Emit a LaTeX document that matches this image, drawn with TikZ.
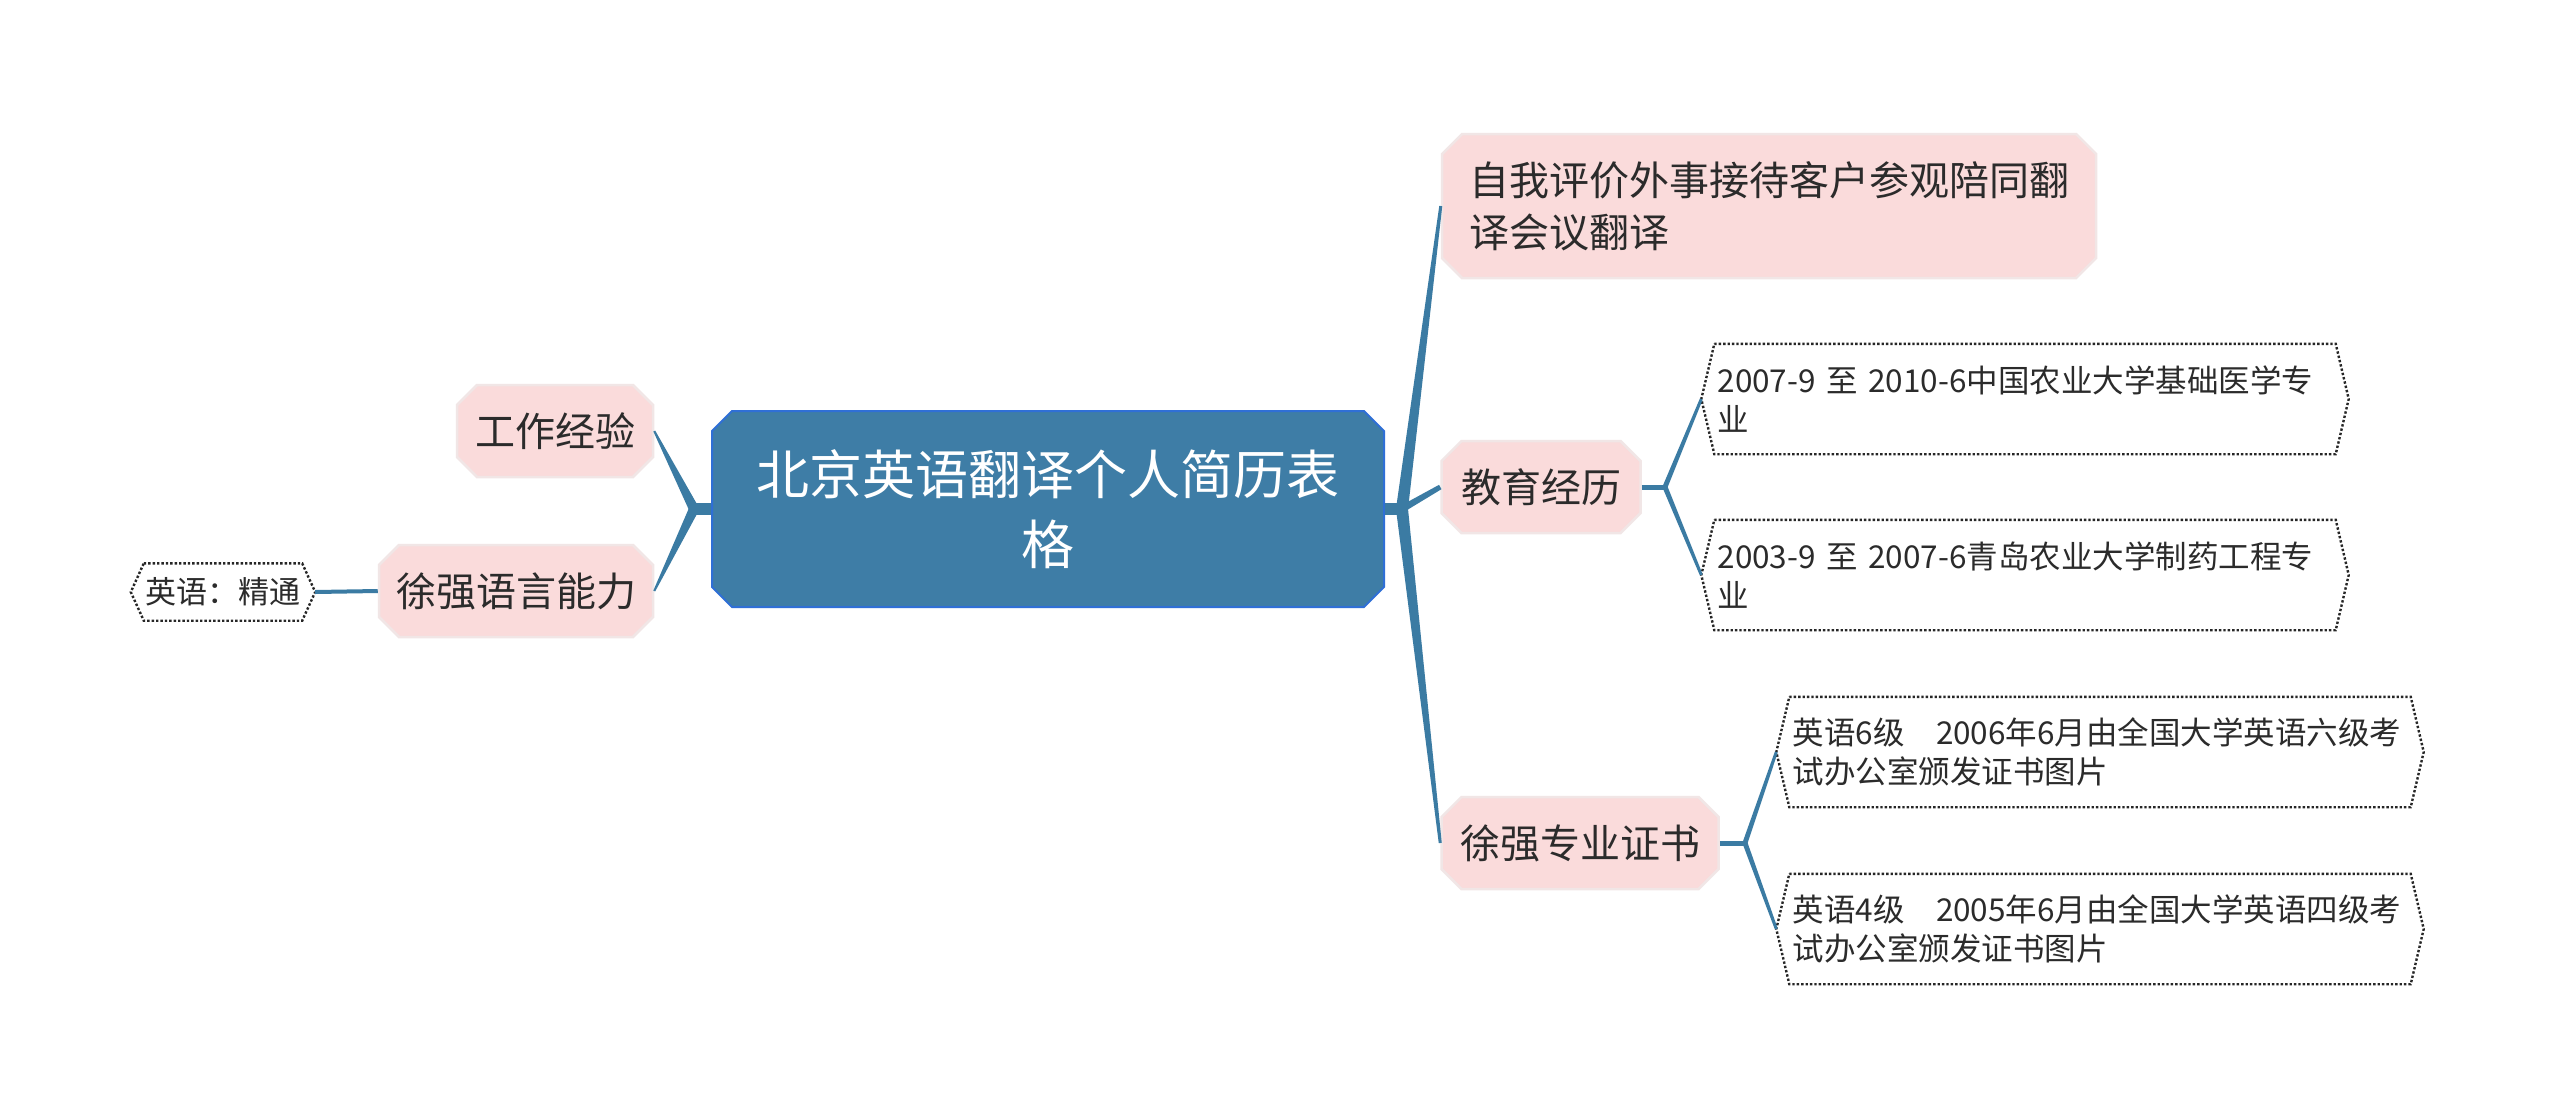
\documentclass[tikz,border=0pt]{standalone}
\usepackage{fontspec}
\setmainfont{Noto Sans CJK SC}
\usetikzlibrary{shapes.misc,calc}
\definecolor{rootfill}{HTML}{3E7DA6}
\definecolor{rootdraw}{HTML}{2F6FD6}
\definecolor{linec}{HTML}{3B7BA3}
\definecolor{pinkfill}{HTML}{FADBDB}
\definecolor{pinkdraw}{HTML}{F1E6E6}
\definecolor{txt}{HTML}{2B2B2B}
\newcommand\leafoutline[1]{%
  \coordinate (#1W) at ($(#1.west)+(-13,0)$);
  \coordinate (#1E) at ($(#1.east)+(13,0)$);
  \draw[leafline] (#1.north west) -- (#1.north east) -- (#1E) -- (#1.south east) -- (#1.south west) -- (#1W) -- cycle;}
% tapered connector: #1 start, #2 end, #3 start half-width, #4 end half-width
\newcommand\taper[4]{%
  \fill[linec] ($(#1)!#3!90:(#2)$) -- ($(#2)!#4!-90:(#1)$) -- ($(#2)!#4!90:(#1)$) -- ($(#1)!#3!-90:(#2)$) -- cycle;}
\begin{document}
\begin{tikzpicture}[x=1pt,y=-1pt,
 rootbox/.style={chamfered rectangle, chamfered rectangle xsep=10pt, chamfered rectangle ysep=10pt, fill=rootfill, draw=rootdraw, line width=2pt, minimum width=672pt, minimum height=196pt, inner sep=0pt, text=white, align=center, font=\fontsize{53}{70}\selectfont},
 pinkbox/.style={chamfered rectangle, chamfered rectangle xsep=10pt, chamfered rectangle ysep=10pt, fill=pinkfill, draw=pinkdraw, line width=2.5pt, minimum height=92pt, inner sep=0pt, text=txt, align=left, font=\fontsize{40}{52}\selectfont},
 leafbox/.style={rectangle, inner xsep=3pt, inner ysep=0pt, minimum height=110pt, text width=615pt, align=left, text=txt, font=\fontsize{31.5}{39}\selectfont},
 smallleaf/.style={rectangle, inner sep=0pt, minimum height=57pt, minimum width=158pt, align=center, text=txt, font=\fontsize{31}{39}\selectfont},
 leafline/.style={draw=black!85, line width=2.4pt, dash pattern=on 2.4pt off 2pt},
 conn/.style={draw=linec, line width=3pt},
]
\useasboundingbox (0,0) rectangle (2560,1119);
\fill[white] (0,0) rectangle (2560,1119);

% nodes
\node[rootbox] (root) at (1048,509) {北京英语翻译个人简历表\\格};
\node[pinkbox, minimum width=654pt, minimum height=144pt] (n1) at (1769,206) {自我评价外事接待客户参观陪同翻\\译会议翻译};
\node[pinkbox, minimum width=199pt] (n2) at (1541,487) {教育经历};
\node[pinkbox, minimum width=277pt] (n3) at (1580,843) {徐强专业证书};
\node[pinkbox, minimum width=196pt] (n4) at (555,431) {工作经验};
\node[pinkbox, minimum width=274pt] (n5) at (516,591) {徐强语言能力};

\node[leafbox] (la) at (2025,399) {2007-9 至 2010-6中国农业大学基础医学专\\业};
\node[leafbox] (lb) at (2025,575) {2003-9 至 2007-6青岛农业大学制药工程专\\业};
\node[leafbox] (lc) at (2100,752) {英语6级\quad 2006年6月由全国大学英语六级考\\试办公室颁发证书图片};
\node[leafbox] (ld) at (2100,929) {英语4级\quad 2005年6月由全国大学英语四级考\\试办公室颁发证书图片};
\node[smallleaf] (le) at (223,592) {英语：精通};

\leafoutline{la}
\leafoutline{lb}
\leafoutline{lc}
\leafoutline{ld}
\leafoutline{le}

% connectors
\coordinate (rR) at (1402,509);
\coordinate (rL) at (694,509);
\draw[conn, line width=12pt] (root.east) -- (rR);
\draw[conn, line width=12pt] (root.west) -- (rL);
\taper{rR}{n1.west}{6pt}{1.5pt}
\taper{rR}{n2.west}{3.5pt}{2.5pt}
\taper{rR}{n3.west}{6pt}{1.5pt}
\taper{rL}{n4.east}{5pt}{1pt}
\taper{rL}{n5.east}{5pt}{1pt}

\coordinate (n2R) at (1665,487);
\coordinate (n3R) at (1745,843);
\draw[conn, line width=5pt] (n2.east) -- (n2R);
\taper{n2R}{laW}{2.5pt}{1.5pt}
\taper{n2R}{lbW}{2.5pt}{1.5pt}
\draw[conn, line width=5pt] (n3.east) -- (n3R);
\taper{n3R}{lcW}{2.5pt}{1.5pt}
\taper{n3R}{ldW}{2.5pt}{1.5pt}
\draw[conn, line width=4pt] (n5.west) -- (leE);
\end{tikzpicture}
\end{document}
